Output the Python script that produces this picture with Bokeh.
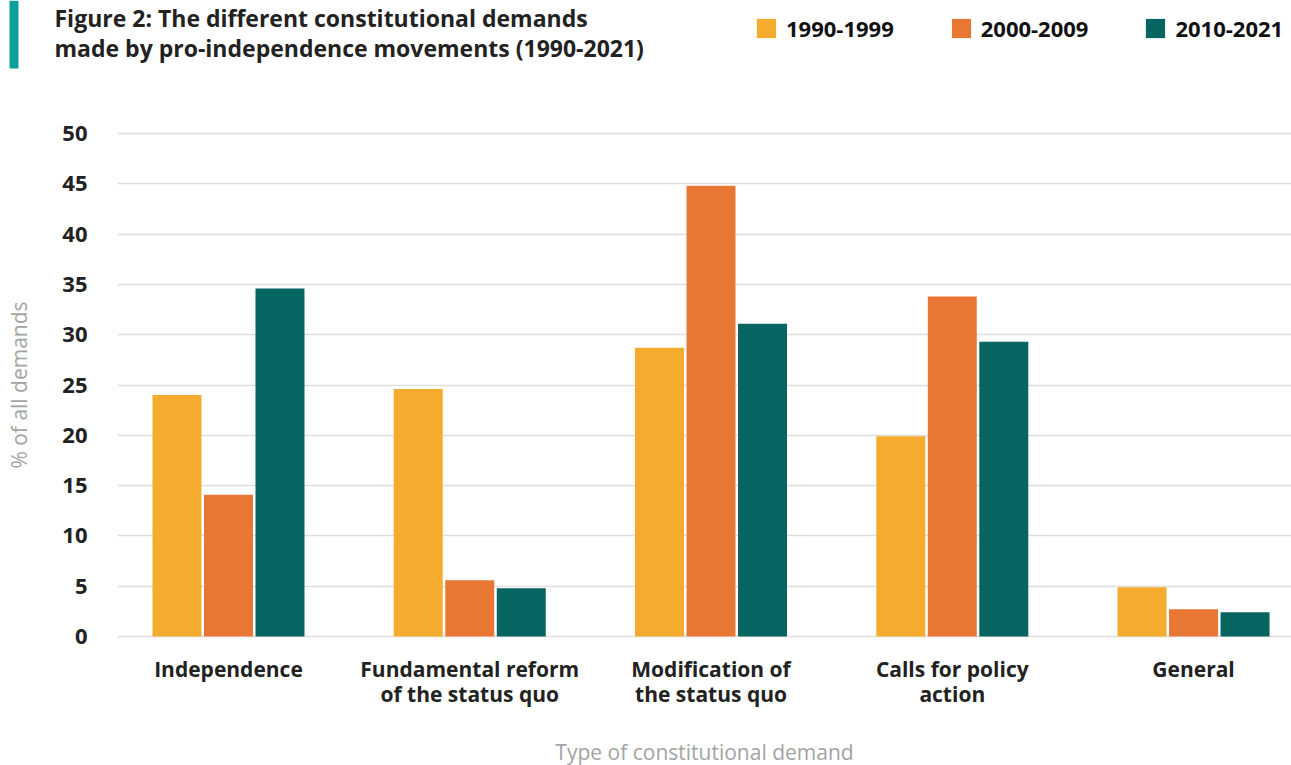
from bokeh.plotting import figure
from bokeh.layouts import column
from bokeh.models import (Range1d, FixedTicker, Legend, LegendItem, ColumnDataSource)
from bokeh.core.properties import value
from bokeh.embed import file_html
from bokeh.resources import INLINE

# Data
categories = ["Independence", "Fundamental reform\nof the status quo",
              "Modification of\nthe status quo", "Calls for policy\naction", "General"]
periods = ["1990-1999", "2000-2009", "2010-2021"]
share_1990s = [24.0, 24.6, 28.7, 19.9, 4.9]
share_2000s = [14.1, 5.6, 44.8, 33.8, 2.7]
share_2010s = [34.6, 4.8, 31.1, 29.3, 2.4]
y_ticks = [0, 5, 10, 15, 20, 25, 30, 35, 40, 45, 50]
title_lines = ["Figure 2: The different constitutional demands",
               "made by pro-independence movements (1990-2021)"]

colors = ["#F5AB2E", "#E97734", "#066561"]
accent = "#0E9E9B"
FONT = "Open Sans"
NAN = float("nan")

# ---- header: accent bar, title and legend (pixel coordinates, y down) ----
header = figure(frame_width=1291, frame_height=100, output_backend="svg", toolbar_location=None,
                x_range=Range1d(0, 1291), y_range=Range1d(100, 0),
                x_axis_type=None, y_axis_type=None,
                min_border_left=0, min_border_right=0, min_border_top=0, min_border_bottom=0)
header.frame_align = False
header.outline_line_color = None
header.grid.visible = False
header.quad(left=9, right=18, top=0, bottom=68, fill_color=accent, line_color=None)
header.text(x=[54, 54], y=[17, 47], text=title_lines,
            text_font=value(FONT), text_font_style="bold", text_font_size="23px",
            text_color="#222222", text_baseline="alphabetic", text_align="left")

# legend swatches: placeholder renderers that only carry the series colours
swatches = [header.vbar(x="x", top="top", width=1,
                        source=ColumnDataSource(dict(x=[NAN], top=[NAN])),
                        fill_color=col, line_color=None) for col in colors]
legend = Legend(items=[LegendItem(label=lab, renderers=[r]) for lab, r in zip(periods, swatches)],
                orientation="horizontal", location=(754, 57),
                glyph_width=24, glyph_height=24, label_standoff=8, spacing=55,
                padding=0, margin=0, border_line_color=None, background_fill_alpha=0,
                label_text_font=FONT, label_text_font_style="bold",
                label_text_font_size="22px", label_text_color="#111111")
header.add_layout(legend, "center")

# ---- main grouped bar chart ----
p = figure(frame_width=1174, frame_height=507, output_backend="svg", toolbar_location=None,
           x_range=Range1d(-0.46, 4.406), y_range=Range1d(-0.2, 50.2),
           min_border_left=117, min_border_right=0, min_border_top=31,
           min_border_bottom=0)
p.frame_align = False
p.outline_line_color = None

idx = list(range(len(categories)))
offsets = [-0.2135, 0.0, 0.2135]
for vals, off, col in zip([share_1990s, share_2000s, share_2010s], offsets, colors):
    src = ColumnDataSource(dict(x=[i + off for i in idx], top=vals))
    p.vbar(x="x", top="top", bottom=0, width=0.203, source=src,
           fill_color=col, line_color=None)

p.xaxis.ticker = FixedTicker(ticks=idx)
p.xaxis.major_label_overrides = {i: c for i, c in zip(idx, categories)}
p.yaxis.ticker = FixedTicker(ticks=y_ticks)
for ax in (p.xaxis, p.yaxis):
    ax.axis_line_color = None
    ax.major_tick_line_color = None
    ax.minor_tick_line_color = None
    ax.major_label_text_font = FONT
    ax.major_label_text_font_style = "bold"
    ax.major_label_text_color = "#222222"
    ax.axis_label_text_font = FONT
    ax.axis_label_text_font_style = "normal"
    ax.axis_label_text_font_size = "21px"
    ax.axis_label_text_color = "#a3a3a3"
p.xaxis.major_label_text_font_size = "21px"
p.yaxis.major_label_text_font_size = "22px"
p.xaxis.major_label_text_line_height = 0.91
p.xaxis.major_label_standoff = 10
p.yaxis.major_label_standoff = 24
p.xaxis.axis_label = "Type of constitutional demand"
p.yaxis.axis_label = "% of all demands"
p.xaxis.axis_label_standoff = 27
p.yaxis.axis_label_standoff = 26

p.xgrid.grid_line_color = None
p.ygrid.grid_line_color = "#dedede"
p.ygrid.grid_line_width = 1.5

layout = column(header, p, spacing=0)
open("out.html", "w").write(file_html(layout, INLINE))
